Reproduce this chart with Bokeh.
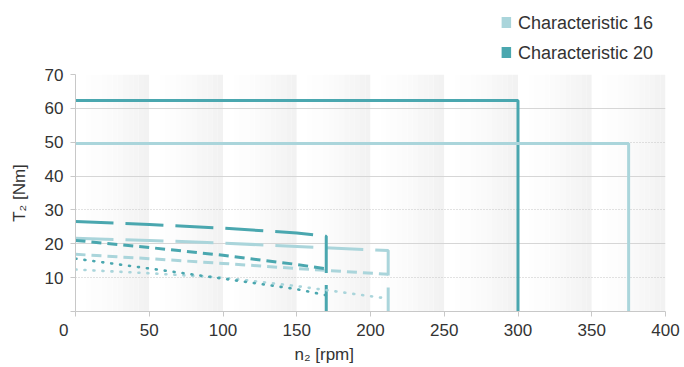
import numpy as np
from bokeh.plotting import figure
from bokeh.layouts import column
from bokeh.models import Range1d, FixedTicker, Grid, Title
from bokeh.core.properties import value
from bokeh.embed import file_html
from bokeh.resources import INLINE

# ---------------- data ----------------
x_ticks = [0, 50, 100, 150, 200, 250, 300, 350, 400]
y_ticks = [0, 10, 20, 30, 40, 50, 60, 70]

series_names = ["Characteristic 16", "Characteristic 20"]

# Characteristic 20 (dark)
c20_solid_x = [0, 300, 300]
c20_solid_y = [62.3, 62.3, 0]
c20_long_x = [0, 50, 100, 150, 170, 170]
c20_long_y = [26.6, 25.7, 24.6, 23.2, 22.2, 0]
c20_med_x = [0, 50, 100, 150, 170]
c20_med_y = [21.0, 18.9, 16.6, 13.9, 12.6]
c20_dot_x = [0, 50, 100, 150, 170]
c20_dot_y = [15.6, 12.7, 9.7, 6.6, 4.8]

# Characteristic 16 (light)
c16_solid_x = [0, 375, 375]
c16_solid_y = [49.6, 49.6, 0]
c16_long_x = [0, 50, 100, 150, 212, 212]
c16_long_y = [21.6, 21.0, 20.2, 19.2, 18.0, 0]
c16_med_x = [0, 50, 100, 150, 212]
c16_med_y = [16.9, 15.6, 14.2, 12.7, 11.0]
c16_dot_x = [0, 50, 100, 150, 212]
c16_dot_y = [12.4, 11.3, 10.0, 7.5, 3.8]

# ---------------- styles ----------------
DARK = "#4AA7AF"
LIGHT = "#AAD5DB"
FONT = "Liberation Sans"
TXT = "#333333"
W = 684
LEG_H = 62
MAIN_H = 305

# ---------- legend strip (own small figure, pixel coordinates) ----------
leg = figure(width=W, height=LEG_H, x_range=Range1d(0, W), y_range=Range1d(0, LEG_H),
             output_backend="svg", toolbar_location=None,
             x_axis_location=None, y_axis_location=None,
             min_border_left=0, min_border_right=0, min_border_top=0, min_border_bottom=0)
leg.outline_line_color = None
leg.xgrid.visible = False
leg.ygrid.visible = False
leg_rows_y = [LEG_H - 22, LEG_H - 52]
leg.rect(x=[499.5, 499.5], y=leg_rows_y, width=11, height=11,
         fill_color=[LIGHT, DARK], line_color=None)
leg.text(x=[513, 513], y=leg_rows_y, text=series_names, text_font=value(FONT),
         text_font_size="18px", text_baseline="middle", text_align="left", text_color=TXT)

# ---------- main chart ----------
p = figure(width=W, height=MAIN_H, x_range=Range1d(0, 400), y_range=Range1d(0, 70),
           output_backend="svg", toolbar_location=None,
           min_border_left=75, min_border_right=19, min_border_top=12, min_border_bottom=56)
p.outline_line_color = None
p.background_fill_color = "white"
p.border_fill_color = "white"

# background gradient bands (white -> light grey within each x-tick interval)
n_strips = 14
lefts, rights, colors = [], [], []
for a, b in zip(x_ticks[:-1], x_ticks[1:]):
    w = (b - a) / n_strips
    for i in range(n_strips):
        t = (i + 0.5) / n_strips
        g = int(round(255 - 14 * t ** 1.6))
        lefts.append(a + i * w)
        rights.append(a + (i + 1) * w + 0.01)
        colors.append("#%02x%02x%02x" % (g, g, g))
bands = p.quad(left=lefts, right=rights, bottom=0, top=70, fill_color=colors, line_color=None)
bands.level = "image"

# grids
p.xgrid.visible = False
p.ygrid.ticker = FixedTicker(ticks=[t for t in y_ticks if t % 20 == 0 and t > 0])
p.ygrid.grid_line_color = "#d6d6d6"
p.ygrid.grid_line_width = 1
minor_grid = Grid(dimension=1, ticker=FixedTicker(ticks=[t for t in y_ticks if t % 20 == 10]),
                  grid_line_color="#c4c4c4", grid_line_dash="1 2", grid_line_width=1)
p.add_layout(minor_grid)

# lines
lw = 3
p.line(c20_solid_x, c20_solid_y, line_color=DARK, line_width=lw)
p.line(c16_solid_x, c16_solid_y, line_color=LIGHT, line_width=lw)
p.line(c16_long_x, c16_long_y, line_color=LIGHT, line_width=lw, line_dash="38 12")
p.line(c20_long_x, c20_long_y, line_color=DARK, line_width=lw, line_dash="38 12")
p.line(c16_med_x, c16_med_y, line_color=LIGHT, line_width=lw, line_dash="10 6")
p.line(c20_med_x, c20_med_y, line_color=DARK, line_width=lw, line_dash="10 6")
p.line(c16_dot_x, c16_dot_y, line_color=LIGHT, line_width=2.6, line_dash="1 8", line_cap="round")
p.line(c20_dot_x, c20_dot_y, line_color=DARK, line_width=2.6, line_dash="1 8", line_cap="round")

# axes
for ax in (p.xaxis[0], p.yaxis[0]):
    ax.axis_line_color = "#c8c8c8"
    ax.major_tick_line_color = "#c8c8c8"
    ax.major_tick_out = 5
    ax.major_tick_in = 0
    ax.minor_tick_line_color = None
    ax.major_label_text_font = FONT
    ax.major_label_text_font_size = "17px"
    ax.major_label_text_color = TXT
    ax.axis_label_text_font = FONT
    ax.axis_label_text_font_size = "17px"
    ax.axis_label_text_font_style = "normal"
    ax.axis_label_text_color = TXT

p.xaxis.ticker = FixedTicker(ticks=x_ticks)
p.yaxis.ticker = FixedTicker(ticks=y_ticks)
p.xaxis.major_label_overrides = {0: "0\u00a0\u00a0\u00a0\u00a0\u00a0"}
p.yaxis.major_label_overrides = {0: ""}
p.xaxis.major_label_standoff = 4
p.yaxis.major_label_standoff = 7
p.yaxis.axis_label = "T\u2082 [Nm]"
p.yaxis.axis_label_standoff = 13

# x axis title placed like the reference (left of centre)
p.add_layout(Title(text="n\u2082 [rpm]", align="left", offset=219, text_font=FONT,
                   text_font_size="17px", text_font_style="normal", text_color=TXT,
                   standoff=0), "below")

layout = column(leg, p, spacing=0)
open("out.html", "w").write(file_html(layout, INLINE))
